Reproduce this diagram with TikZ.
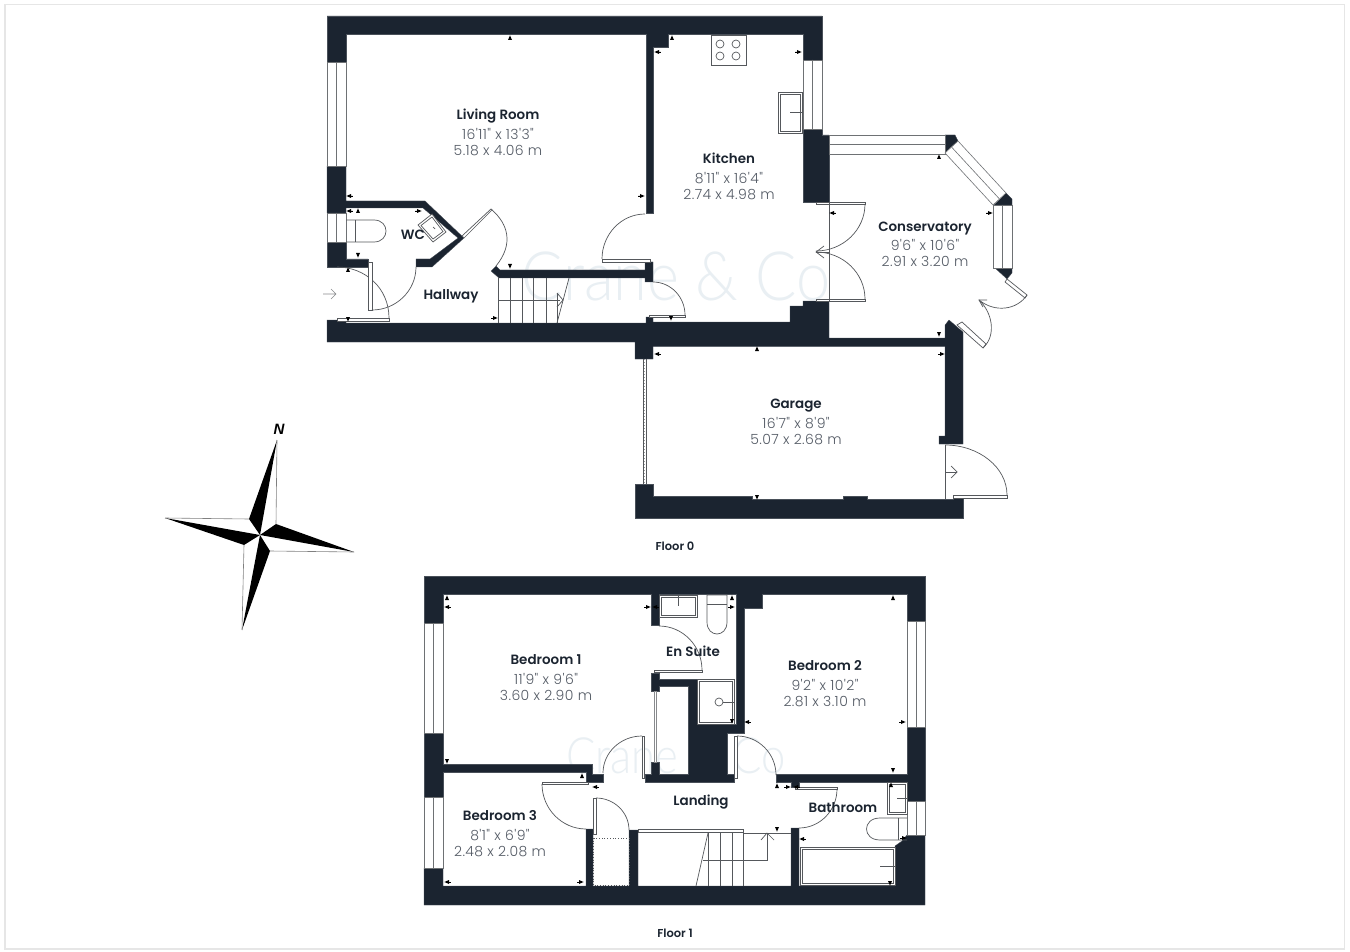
\documentclass[tikz,border=0pt]{standalone}
\usepackage{graphicx}
\usepackage{fontspec}
\setmainfont{Poppins}
\newfontfamily\lab{Poppins SemiBold}
\newfontfamily\dimf[LetterSpace=3]{Poppins Light}
\newfontfamily\wmf{Lato Light}
\newfontfamily\nf{Liberation Sans}
\usetikzlibrary{calc}
\definecolor{wallc}{HTML}{1B2430}
\definecolor{dimc}{HTML}{555C66}
\definecolor{linec}{HTML}{55585C}
\definecolor{wmc}{HTML}{E9EFF3}
\definecolor{borderc}{HTML}{E6E6E6}
\tikzset{
 wall/.style={fill=wallc,draw=wallc!80!white,line width=.3pt,line join=miter},
 thinl/.style={draw=linec,line width=.7pt},
 panel/.style={draw=linec,fill=white,line width=.7pt},
 glass/.style={draw=linec!85!white,fill=white,line width=.6pt},
 tick/.style={fill=black,draw=none},
 rn/.style={font=\lab\fontsize{13.45}{15}\selectfont,text=wallc,inner sep=0pt,text height=10pt,text depth=0pt},
 rd/.style={font=\dimf\fontsize{14}{15}\selectfont,text=dimc,inner sep=0pt,text height=12pt,text depth=0pt},
 fl/.style={font=\lab\fontsize{11.5}{12}\selectfont,text=wallc,inner sep=0pt,text height=8pt,text depth=0pt},
 wm/.style={font=\wmf\fontsize{#1}{#1}\selectfont,text=wmc,inner sep=0pt}
}
\newcommand\doorarc[3]{\draw[thinl] (#1) .. controls ($(#1)!0.55!(#3)$) and ($(#2)!0.55!(#3)$) .. (#2);}
\newcommand\vwin[4]{\draw[glass] (#1,#3) rectangle (#2,#4); \draw[glass] ({(#1+#2)/2},#3) -- ({(#1+#2)/2},#4);}
\newcommand\hwin[4]{\draw[glass] (#1,#3) rectangle (#2,#4); \draw[glass] (#1,{(#3+#4)/2}) -- (#2,{(#3+#4)/2});}
\newcommand\tku[2]{\fill[tick,shift={(#1,#2)}] (-2,2)--(2,2)--(0,-2.6)--cycle;}
\newcommand\tkd[2]{\fill[tick,shift={(#1,#2)}] (-2,-2)--(2,-2)--(0,2.6)--cycle;}
\newcommand\tkl[2]{\fill[tick,shift={(#1,#2)}] (2,-2)--(2,2)--(-2.6,0)--cycle;\draw[tick,draw=black,line width=.4pt,shift={(#1,#2)}] (2,0)--(3.6,0);}
\newcommand\tkr[2]{\fill[tick,shift={(#1,#2)}] (-2,-2)--(-2,2)--(2.6,0)--cycle;\draw[tick,draw=black,line width=.4pt,shift={(#1,#2)}] (-2,0)--(-3.6,0);}
\begin{document}
\begin{tikzpicture}[x=1pt,y=-1pt]
\useasboundingbox (0,0) rectangle (1350,952);
\fill[white] (0,0) rectangle (1350,952);
\draw[borderc,line width=1.2pt] (5,4.5) rectangle (1344.5,949);
% watermarks
\node[wm=68,anchor=base] (wm0) at (676,300) {\scalebox{.9}[1]{Crane \& Co}};
\node[wm=50,anchor=base] (wm1) at (676,773) {\scalebox{.87}[1]{Crane \& Co}};

% ===== FLOOR 0 walls =====
\fill[wall] (327,16)--(822,16)--(822,60)--(803,60)--(803,34.5)--(668,34.5)--(668,47)--(653,47)--(653,213)--(646,213)--(646,34.5)--(346,34.5)--(346,62)--(327,62)--cycle;
\fill[wall] (327,166)--(346,166)--(346,201)--(425,201)--(464,238)--(432,267)--(416,267)--(416,259)--(430,259)--(458,238)--(423,208)--(346,208)--(346,213)--(327,213)--cycle;
\fill[wall] (327,242)--(346,242)--(346,259)--(368,259)--(368,267)--(327,267)--cycle;
\fill[wall] (327,320)--(346,320)--(346,323)--(646,323)--(646,317)--(653,317)--(653,322)--(790,322)--(790,306)--(803,306)--(803,301)--(829,301)--(829,338)--(945,338)--(945,325)--(949,320)--(963,332)--(963,444)--(939,444)--(939,436)--(945,436)--(945,346.5)--(653,346.5)--(653,359)--(635,359)--(635,342)--(327,342)--cycle;
\fill[wall] (803,129)--(822,129)--(822,135)--(829,135)--(829,202)--(803,202)--cycle;
\fill[wall] (645,262)--(653,262)--(653,282)--(645,282)--(645,278)--(499,278)--(491,271)--(496,266)--(500,270)--(645,270)--cycle;
\fill[wall] (635,484)--(653,484)--(653,496)--(752,496)--(752,499.5)--(843,499.5)--(843,496)--(867,496)--(867,499.5)--(953,499.5)--(953,498)--(963,498)--(963,518)--(635,518)--cycle;
\fill[wall] (945,135)--(955,135)--(958,141)--(945,153)--cycle;
\fill[wall] (994,205)--(1006,193)--(1012,199)--(1012,205)--cycle;
\fill[wall] (995,268)--(1012,268)--(1012,273)--(1007,279)--cycle;

% windows floor 0
\vwin{327}{346}{62}{166}
\vwin{327}{346}{213}{242}
\vwin{803}{822}{60}{129}
\hwin{829}{945}{135}{154}
\vwin{993}{1012}{205}{268}
\draw[glass] (945,153)--(958,141)--(1006,193)--(993,205)--cycle;
\draw[glass] (951.5,147)--(999.5,199);

% doors floor 0
\draw[panel] (337,318) rectangle (389,321);
\draw[thinl] (337,267) .. controls (365,267) and (389,288) .. (389,318);
\draw[panel] (368,262) rectangle (372,310);
\doorarc{372,310}{416,267}{416,310}
\draw[panel] (464,238)--(492,210)--(491,209)--(462,236)--cycle;
\draw[thinl] (492,210) .. controls (508,224) and (514,244) .. (496,266);
\draw[panel] (602,259) rectangle (650,262);
\doorarc{602,259}{645,214}{602,214}
\draw[panel] (649,315) rectangle (685,317.5);
\doorarc{685,315}{653,282}{685,282}
\draw[panel] (816,202) rectangle (865,204);
\draw[panel] (816,299) rectangle (865,301);
\doorarc{865,204}{816,251}{865,251}
\doorarc{865,299}{816,252}{865,252}
\draw[thinl] (829,202)--(829,301);
\draw[thinl] (829,252)--(816,252);
\draw[thinl] (824,246)--(816,252)--(824,258);
\draw[panel] (1007,279)--(1027,295)--(1025,298)--(1005,282)--cycle;
\draw[panel] (957,325)--(983,348)--(986,344)--(962,322)--cycle;
\draw[thinl] (1027,295) .. controls (1017,310) and (995,313) .. (979,300);
\draw[thinl] (983,348) .. controls (997,335) and (992,312) .. (979,300);
\draw[thinl] (987,300)--(979,300)--(983,307);
\draw[thinl] (643,359)--(643,484) (646,359)--(646,484);
\draw[draw=linec!60!white,line width=1pt,dotted] (644.5,359)--(644.5,484);
\draw[thinl] (945,445)--(945,499);
\draw[panel] (953,495) rectangle (1007,498);
\doorarc{945,445}{1007,495}{1007,445}
\draw[thinl] (945,472)--(957,472);
\draw[thinl] (951,466)--(957,472)--(951,478);
\draw[thinl,draw=linec!70!white] (323,294)--(336,294) (331,289)--(336,294)--(331,299);

% stairs floor 0
\draw[thinl] (498,278)--(498,323) (510,278)--(510,323) (522,278)--(522,323) (533,278)--(533,323) (546,278)--(546,323) (557,293)--(557,323);
\draw[thinl] (569,278)--(557,323);
\draw[thinl] (498,300)--(560,300);
\draw[thinl] (557,293)--(563,300)--(557,307);

% fixtures floor 0
\draw[thinl] (711,35) rectangle (746,65);
\foreach \cx/\cy in {720/44,736/44,720/56,736/56} \draw[thinl] (\cx,\cy) circle [radius=4];
\draw[panel] (778,92) rectangle (802.5,133);
\draw[thinl] (780,94) rectangle (800,131);
\draw[thinl] (790,112)--(802,112);
\draw[thinl] (346,220)--(374,220) .. controls (390,220) and (390,242) .. (374,242)--(346,242);
\draw[thinl] (355,220)--(355,242);
\draw[panel] (418,225)--(432,214)--(446,232)--(433,242)--cycle;
\draw[thinl] (421,225.5)--(432,217)--(443,231.5)--(433,239)--cycle;
\draw[thinl] (433,227)--(435,229);

% ===== FLOOR 1 walls =====
\fill[wall] (424,576)--(925,576)--(925,621)--(907,621)--(907,594)--(762,594)--(762,608)--(744,608)--(744,733)--(727,733)--(727,774)--(734,774)--(734,782)--(645,782)--(645,774)--(651,774)--(651,762)--(659,762)--(659,774)--(688,774)--(688,686)--(659,686)--(659,691)--(651,691)--(651,673)--(659,673)--(659,679)--(697,679)--(697,724)--(736,724)--(736,594)--(659,594)--(659,625)--(651,625)--(651,594)--(443,594)--(443,623)--(424,623)--cycle;
\fill[wall] (424,733)--(443,733)--(443,764)--(592,764)--(592,774)--(603,774)--(603,782)--(586,782)--(586,772)--(443,772)--(443,797)--(424,797)--cycle;
\fill[wall] (424,868)--(443,868)--(443,886)--(586,886)--(586,829)--(593,829)--(593,886)--(629,886)--(629,830)--(638,830)--(638,886)--(791,886)--(791,828)--(799,828)--(799,886)--(895,886)--(895,846)--(902,841)--(907,835)--(925,835)--(925,905)--(424,905)--cycle;
\fill[wall] (776,774)--(907,774)--(907,727)--(925,727)--(925,801)--(907,801)--(907,782)--(799,782)--(799,787)--(791,787)--(791,782)--(776,782)--cycle;
\draw[panel] (697,679) rectangle (734,724);
\draw[thinl] (699,681) rectangle (732,722);
\draw[thinl] (719,702) circle [radius=4];
\draw[thinl] (723,702)--(734,702);

% windows floor 1
\vwin{424}{443}{623}{733}
\vwin{424}{443}{797}{868}
\vwin{907}{925}{621}{727}
\vwin{907}{925}{801}{835}

% doors floor 1
\draw[panel] (542,782) rectangle (588,784);
\doorarc{542,784}{586,829}{542,829}
\draw[panel] (642,736) rectangle (644,778);
\doorarc{642,736}{603,773}{603,736}
\draw[panel] (654,670) rectangle (702,672.5);
\doorarc{702,670}{659,626}{702,626}
\draw[panel] (734,736) rectangle (737,778);
\doorarc{737,736}{776,775}{776,736}
\draw[panel] (795,787) rectangle (837,789);
\doorarc{837,789}{799,828}{837,828}
\draw[panel] (593,798) rectangle (596,834);
\doorarc{596,798}{629,830}{629,798}
\draw[panel,draw=linec!70!white] (654,691) rectangle (656,762);
\draw[draw=linec,line width=.7pt,dotted] (593,838) rectangle (629,885);

% stairs floor 1
\draw[panel] (638,829.5) rectangle (743,832.5);
\draw[thinl] (743,833)--(791,833);
\draw[thinl] (708,833)--(708,886) (720,833)--(720,886) (732,833)--(732,886) (743,833)--(743,886);
\draw[thinl] (708,833)--(696,886);
\draw[thinl] (703,860)--(767,860)--(767,833);
\draw[thinl] (761,840)--(767,833)--(774,840);

% fixtures floor 1
\draw[panel] (659,595) rectangle (697,617);
\draw[thinl] (661,597) rectangle (695,615);
\draw[thinl] (678,595)--(678,606);
\draw[thinl] (707,595)--(727,595)--(727,622) .. controls (727,638) and (707,638) .. (707,622)--cycle;
\draw[thinl] (707,604)--(727,604);
\draw[panel] (800,847) rectangle (895,885);
\draw[thinl] (802,849) rectangle (893,883);
\draw[thinl] (880,866)--(895,866);
\draw[panel] (887,782) rectangle (907,814);
\draw[thinl] (889,784) rectangle (905,812);
\draw[thinl] (897,798)--(907,798);
\draw[thinl] (907,818)--(880,818) .. controls (862,818) and (862,840) .. (880,840)--(907,840);
\draw[thinl] (898,818)--(898,840);

% ticks
\tku{510}{38} \tkl{349}{196} \tkr{642}{196} \tkl{349}{211} \tku{358}{211} \tkr{419}{211}
\tkd{358}{255} \tku{348}{270} \tkd{348}{319} \tkd{510}{266} \tkr{495}{318} \tkd{671}{318}
\tkl{657}{354} \tkr{942}{354} \tku{757}{349} \tkd{757}{497}
\tku{672}{38} \tkl{657}{52} \tkr{799}{52} \tku{939}{157} \tkl{832}{213} \tkr{990}{213} \tkd{939}{334}
\tku{447}{598} \tkl{447}{607} \tkr{648}{607} \tkl{655}{607} \tkd{447}{761} \tku{582}{776} \tkl{595}{787}
\tkl{447}{882} \tkr{581}{882} \tku{732}{598} \tkr{732}{607} \tkd{732}{721}
\tku{893}{598} \tkl{747}{722} \tkr{903}{722} \tkd{893}{770} \tku{777}{786} \tkr{788}{787} \tkl{796}{787}
\tkd{777}{829} \tkl{802}{839} \tkr{904}{838} \tkd{890}{883} \tku{891}{785}

% labels
\node[rn] (n1) at (498,115) {Living Room};
\node[rd] (d1a) at (498,134) {16'11" x 13'3"};
\node[rd] (d1b) at (498,150) {5.18 x 4.06 m};
\node[rn] (n2) at (729,159) {Kitchen};
\node[rd] (d2a) at (729,178) {8'11" x 16'4"};
\node[rd] (d2b) at (729,194) {2.74 x 4.98 m};
\node[rn] (n3) at (925,227) {Conservatory};
\node[rd] (d3a) at (925,245) {9'6" x 10'6"};
\node[rd] (d3b) at (925,261) {2.91 x 3.20 m};
\node[rn] (n4) at (796,403) {Garage};
\node[rd] (d4a) at (796,422) {16'7" x 8'9"};
\node[rd] (d4b) at (796,438) {5.07 x 2.68 m};
\node[rn] (n5) at (413,235) {WC};
\node[rn] (n6) at (451,294) {Hallway};
\node[rn] (n7) at (546,659) {Bedroom 1};
\node[rd] (d7a) at (546,678) {11'9" x 9'6"};
\node[rd] (d7b) at (546,694) {3.60 x 2.90 m};
\node[rn] (n8) at (825,665) {Bedroom 2};
\node[rd] (d8a) at (825,684) {9'2" x 10'2"};
\node[rd] (d8b) at (825,700) {2.81 x 3.10 m};
\node[rn] (n9) at (500,815) {Bedroom 3};
\node[rd] (d9a) at (500,834) {8'1" x 6'9"};
\node[rd] (d9b) at (500,850) {2.48 x 2.08 m};
\node[rn] (n10) at (693,651) {En Suite};
\node[rn] (n11) at (701,800) {Landing};
\node[rn] (n12) at (843,807) {Bathroom};
\node[fl] (f0) at (675,546) {Floor 0};
\node[fl] (f1) at (675,933) {Floor 1};

% compass
\fill[black] (277,440)--(249,519)--(260,535)--cycle;
\fill[black] (354,552)--(276,524)--(260,535)--cycle;
\fill[black] (242,630)--(270,551)--(260,535)--cycle;
\fill[black] (165,518)--(244,545)--(260,535)--cycle;
\draw[gray,line width=.6pt] (277,440)--(276,524) (354,552)--(270,551) (242,630)--(244,545) (165,518)--(249,519);
\node[font=\nf\bfseries\itshape\fontsize{15}{15}\selectfont,inner sep=0pt] (north) at (279,429) {N};
\end{tikzpicture}
\end{document}
